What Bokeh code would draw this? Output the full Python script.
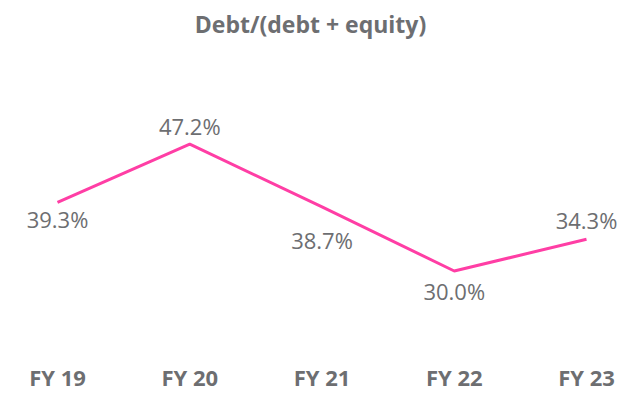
from bokeh.plotting import figure
from bokeh.models import Range1d, FixedTicker, ColumnDataSource
from bokeh.core.properties import value
from bokeh.embed import file_html
from bokeh.resources import INLINE

# ---- data ----
years = ["FY 19", "FY 20", "FY 21", "FY 22", "FY 23"]
ratio = [39.3, 47.2, 38.7, 30.0, 34.3]
labels = ["39.3%", "47.2%", "38.7%", "30.0%", "34.3%"]

# ---- layout (screen offsets for value labels, px; positive = down) ----
label_dy = [17, -18, 33, 20, -19]

GRAY = "#6d6e71"
PINK = "#ff3ea5"
FONT = "Open Sans"

xs = list(range(len(years)))
src = ColumnDataSource(dict(x=xs, y=ratio, lab=labels, dy=label_dy))

p = figure(width=620, height=394, output_backend="svg", toolbar_location=None,
           x_range=Range1d(-0.431, 4.257), y_range=Range1d(19.9, 60.71),
           min_border_left=0, min_border_right=0, min_border_top=0, min_border_bottom=0,
           title="Debt/(debt + equity)")

p.title.align = "center"
p.title.text_font = FONT
p.title.text_font_size = "23px"
p.title.text_font_style = "bold"
p.title.text_color = GRAY

p.line("x", "y", source=src, line_color=PINK, line_width=3)
p.text("x", "y", text="lab", source=src, y_offset="dy",
       text_align="center", text_baseline="middle",
       text_font=value(FONT), text_font_size="22px", text_color=GRAY)

p.yaxis.visible = False
p.grid.visible = False
p.outline_line_color = None
p.xaxis.ticker = FixedTicker(ticks=xs)
p.xaxis.major_label_overrides = {i: y for i, y in enumerate(years)}
p.xaxis.axis_line_color = None
p.xaxis.major_tick_line_color = None
p.xaxis.minor_tick_line_color = None
p.xaxis.major_label_text_font = FONT
p.xaxis.major_label_text_font_size = "22px"
p.xaxis.major_label_text_font_style = "bold"
p.xaxis.major_label_text_color = GRAY
p.xaxis.major_label_standoff = 10

open("out.html", "w").write(file_html(p, INLINE))
